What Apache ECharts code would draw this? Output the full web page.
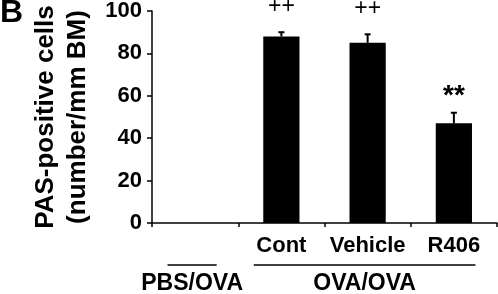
<!DOCTYPE html>
<html>
<head>
<meta charset="utf-8">
<script src="https://cdn.jsdelivr.net/npm/echarts@6/dist/echarts.min.js"></script>
<style>
  html, body { margin: 0; padding: 0; background: #fff; }
  #chart { width: 498px; height: 294px; }
</style>
</head>
<body>
<div id="chart"></div>
<script>
  // 数据
  const categories = ['', 'Cont', 'Vehicle', 'R406'];
  const means = [0, 88, 85, 47];
  const errors = [0, 2, 4, 5];
  const marks = ['', '++', '++', '**'];
  const groupNames = ['PBS/OVA', 'OVA/OVA'];
  const groupStart = [0, 1];
  const groupEnd = [0, 3];
  const yTicks = [0, 20, 40, 60, 80, 100];

  const font = '"Liberation Sans", Arial, sans-serif';
  const myChart = echarts.init(document.getElementById('chart'));

  let option = {
    backgroundColor: '#fff',
    animation: false,
    grid: {
      left: 152,
      right: 1,
      top: 11,
      bottom: 71,
      containLabel: false,
      outerBoundsMode: 'none'
    },
    xAxis: {
      type: 'category',
      data: categories,
      axisLine: { lineStyle: { color: '#000', width: 1.5 } },
      axisTick: { show: true, length: 4, interval: 0, lineStyle: { color: '#000', width: 1.5 } },
      axisLabel: {
        interval: 0,
        margin: 12,
        color: '#000',
        fontFamily: font,
        fontWeight: 'bold',
        fontSize: 22
      }
    },
    yAxis: {
      type: 'value',
      min: yTicks[0],
      max: yTicks[yTicks.length - 1],
      interval: yTicks[1] - yTicks[0],
      name: 'PAS-positive cells\n(number/mm BM)',
      nameLocation: 'middle',
      nameGap: 58,
      nameRotate: 90,
      nameTextStyle: {
        color: '#000',
        fontFamily: font,
        fontWeight: 'bold',
        fontSize: 26,
        lineHeight: 32
      },
      axisLine: { show: true, lineStyle: { color: '#000', width: 1.5 } },
      axisTick: { show: true, length: 5, lineStyle: { color: '#000', width: 1.5 } },
      splitLine: { show: false },
      axisLabel: {
        margin: 10,
        color: '#000',
        fontFamily: font,
        fontWeight: 'bold',
        fontSize: 22
      }
    },
    series: [{
      type: 'bar',
      data: means,
      barWidth: '42%',
      itemStyle: { color: '#000' },
      z: 2
    }, {
      // 误差线 + 显著性标记
      type: 'custom',
      data: means.map((m, i) => [i, m, errors[i], marks[i]]),
      z: 3,
      renderItem: function (params, api) {
        let i = api.value(0);
        if (!(errors[i] > 0)) return null;
        let base = api.coord([i, api.value(1)]);
        let top = api.coord([i, api.value(1) + api.value(2)]);
        let mark = marks[i];
        let star = mark.indexOf('*') >= 0;
        let children = [{
          type: 'line',
          shape: { x1: base[0], y1: base[1], x2: top[0], y2: top[1] },
          style: { stroke: '#000', lineWidth: 2 }
        }, {
          type: 'line',
          shape: { x1: top[0] - 3, y1: top[1], x2: top[0] + 3, y2: top[1] },
          style: { stroke: '#000', lineWidth: 2 }
        }];
        if (mark) {
          children.push({
            type: 'text',
            x: top[0],
            y: top[1] - (star ? 2 : 14),
            style: {
              text: mark,
              fill: '#000',
              font: (star ? 'bold 28px ' : '23px ') + font,
              align: 'center',
              verticalAlign: 'bottom'
            }
          });
        }
        return { type: 'group', children: children };
      }
    }],
    graphic: [{
      type: 'text',
      left: 0,
      top: -3,
      style: { text: 'B', fill: '#000', font: 'bold 32px ' + font }
    }]
  };

  myChart.setOption(option, true);

  // 组标签（PBS/OVA, OVA/OVA）及其上方横线
  function drawGroups() {
    let c0 = myChart.convertToPixel({ xAxisIndex: 0 }, 0);
    let c1 = myChart.convertToPixel({ xAxisIndex: 0 }, 1);
    let band = c1 - c0;
    let els = [];
    groupNames.forEach((g, k) => {
      let a = myChart.convertToPixel({ xAxisIndex: 0 }, groupStart[k]) - band * 0.32;
      let b = myChart.convertToPixel({ xAxisIndex: 0 }, groupEnd[k]) + band * 0.25;
      els.push({
        type: 'line',
        shape: { x1: a, y1: 265, x2: b, y2: 265 },
        style: { stroke: '#000', lineWidth: 1.5 }
      });
      els.push({
        type: 'text',
        x: (a + b) / 2,
        y: 284,
        style: {
          text: g,
          fill: '#000',
          font: 'bold 23px ' + font,
          align: 'center',
          verticalAlign: 'middle'
        }
      });
    });
    myChart.setOption({
      graphic: [option.graphic[0]].concat(els)
    });
  }
  drawGroups();
</script>
</body>
</html>
